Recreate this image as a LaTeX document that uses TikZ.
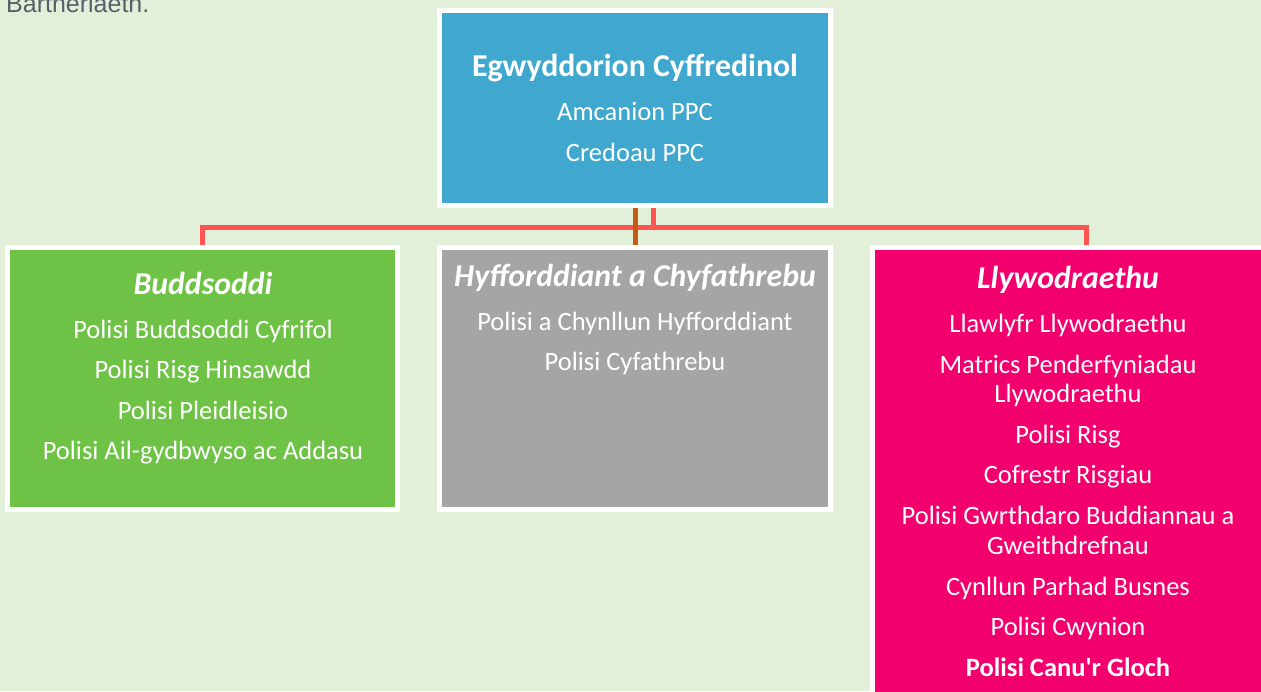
\documentclass[tikz,border=0pt]{standalone}
\usepackage{fontspec}
\setmainfont{Carlito}
\newfontfamily\arialfont{Liberation Sans}
\usetikzlibrary{calc}
\definecolor{bgc}{HTML}{E2EFD9}
\definecolor{bluec}{HTML}{40A8CE}
\definecolor{greenc}{HTML}{6EC245}
\definecolor{grayc}{HTML}{A5A5A5}
\definecolor{pinkc}{HTML}{F2006E}
\definecolor{redc}{HTML}{FF5552}
\definecolor{brownc}{HTML}{C55A11}
\definecolor{headc}{HTML}{56606B}
\tikzset{
  boxstyle/.style={draw=white, line width=5pt, inner sep=0pt, anchor=center},
  itemtext/.style={text=white, anchor=base, inner sep=0pt, font=\fontsize{26.5}{30}\selectfont},
  headtext/.style={text=white, anchor=base, inner sep=0pt, font=\fontsize{31.8}{36}\selectfont\bfseries\itshape},
  titletext/.style={text=white, anchor=base, inner sep=0pt, font=\fontsize{31.8}{36}\selectfont\bfseries},
  redline/.style={draw=redc, line width=5pt},
  brownline/.style={draw=brownc, line width=5pt},
}
\begin{document}
\begin{tikzpicture}[x=1pt,y=-1pt]
\useasboundingbox (0,0) rectangle (1261,691);
\clip (0,0) rectangle (1261,691);
\fill[bgc] (0,0) rectangle (1261,691);

\node[anchor=base west, inner sep=0pt, text=headc, font=\arialfont\fontsize{25}{28}\selectfont] (intro) at (6,12) {Bartneriaeth.};

% boxes
\node[boxstyle, fill=bluec, minimum width=391pt, minimum height=195pt] (top) at (635,108) {};
\node[boxstyle, fill=greenc, minimum width=390pt, minimum height=262pt] (left) at (202.5,378.5) {};
\node[boxstyle, fill=grayc, minimum width=391pt, minimum height=262pt] (mid) at (635,378.5) {};
\node[boxstyle, fill=pinkc, minimum width=397.5pt, minimum height=452.5pt] (right) at (1071.25,473.75) {};

% connectors
\coordinate (hl) at (200,227);
\coordinate (hr) at (1088.5,227);
\coordinate (stub) at (653.5,227);
\coordinate (lj) at (202.5,224.5);
\coordinate (rj) at (1086,224.5);
\coordinate (bj) at (635.5,227);
\draw[redline] (hl) -- (hr);
\draw[redline] (stub) -- (stub |- top.south);
\draw[redline] (lj) -- (lj |- left.north);
\draw[redline] (rj) -- (rj |- right.north);
\draw[brownline] (bj |- top.south) -- (bj |- mid.north);

% top box text
\node[titletext] (t0) at (635,76) {Egwyddorion Cyffredinol};
\node[itemtext] (t1) at (635,120) {Amcanion PPC};
\node[itemtext] (t2) at (635,161) {Credoau PPC};

% left box text
\node[headtext] (l0) at (203,294) {Buddsoddi};
\node[itemtext] (l1) at (203,338) {Polisi Buddsoddi Cyfrifol};
\node[itemtext] (l2) at (203,378) {Polisi Risg Hinsawdd};
\node[itemtext] (l3) at (203,419) {Polisi Pleidleisio};
\node[itemtext] (l4) at (203,459) {Polisi Ail-gydbwyso ac Addasu};

% middle box text
\node[headtext] (m0) at (635,286) {Hyfforddiant a Chyfathrebu};
\node[itemtext] (m1) at (635,330) {Polisi a Chynllun Hyfforddiant};
\node[itemtext] (m2) at (635,370) {Polisi Cyfathrebu};

% right box text
\node[headtext] (r0) at (1068,288) {Llywodraethu};
\node[itemtext] (r1) at (1068,332) {Llawlyfr Llywodraethu};
\node[itemtext] (r2) at (1068,373) {Matrics Penderfyniadau};
\node[itemtext] (r3) at (1068,402) {Llywodraethu};
\node[itemtext] (r4) at (1068,443) {Polisi Risg};
\node[itemtext] (r5) at (1068,483) {Cofrestr Risgiau};
\node[itemtext] (r6) at (1068,524) {Polisi Gwrthdaro Buddiannau a};
\node[itemtext] (r7) at (1068,554) {Gweithdrefnau};
\node[itemtext] (r8) at (1068,595) {Cynllun Parhad Busnes};
\node[itemtext] (r9) at (1068,635) {Polisi Cwynion};
\node[itemtext, font=\fontsize{26.5}{30}\selectfont\bfseries] (r10) at (1068,676) {Polisi Canu\textquotesingle r Gloch};
\end{tikzpicture}
\end{document}
